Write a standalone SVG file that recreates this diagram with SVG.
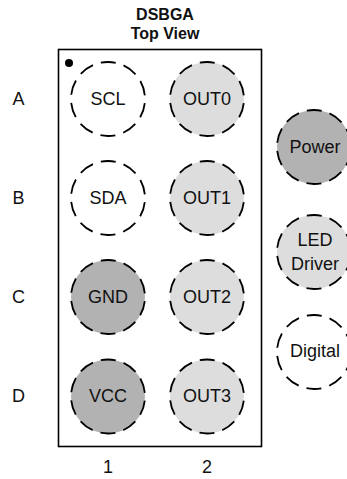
<svg xmlns="http://www.w3.org/2000/svg" width="347" height="479" viewBox="0 0 347 479">
<style>
text{font-family:"Liberation Sans",Arial,sans-serif;font-size:18px;fill:#111;text-anchor:middle}
.t{font-weight:bold;font-size:16px}
.b{stroke:#000;stroke-width:1.8;stroke-dasharray:15 8.250;stroke-dashoffset:-4.100;fill:#fff}
.l{fill:#ddd}.d{fill:#b2b2b2}
</style>
<rect width="347" height="479" fill="#fff"/>
<g id="title"><text class="t" x="165" y="20">DSBGA</text><text class="t" x="165" y="39">Top View</text></g>
<g id="package"><rect x="58.500" y="49.500" width="203" height="397" fill="#fff" stroke="#000" stroke-width="1.600"/><circle cx="69" cy="63" r="4" fill="#000"/></g>
<g id="rows"><text x="18.500" y="105">A</text><text x="18.500" y="204">B</text><text x="18.500" y="303">C</text><text x="18.500" y="402">D</text></g>
<g id="cols"><text x="108" y="473">1</text><text x="207" y="473">2</text></g>
<g id="A1"><circle class="b" cx="108" cy="99" r="37"/><text x="108" y="105">SCL</text></g>
<g id="A2"><circle class="b l" cx="207" cy="99" r="37"/><text x="207" y="105">OUT0</text></g>
<g id="B1"><circle class="b" cx="108" cy="198" r="37"/><text x="108" y="204">SDA</text></g>
<g id="B2"><circle class="b l" cx="207" cy="198" r="37"/><text x="207" y="204">OUT1</text></g>
<g id="C1"><circle class="b d" cx="108" cy="297" r="37"/><text x="108" y="303">GND</text></g>
<g id="C2"><circle class="b l" cx="207" cy="297" r="37"/><text x="207" y="303">OUT2</text></g>
<g id="D1"><circle class="b d" cx="108" cy="396.500" r="37"/><text x="108" y="402">VCC</text></g>
<g id="D2"><circle class="b l" cx="207" cy="396.500" r="37"/><text x="207" y="402">OUT3</text></g>
<g id="legend-power"><circle class="b d" cx="314" cy="147" r="37"/><text x="315" y="153">Power</text></g>
<g id="legend-led"><circle class="b l" cx="314" cy="252" r="37"/><text x="315" y="246">LED</text><text x="315" y="270">Driver</text></g>
<g id="legend-digital"><circle class="b" cx="314" cy="352" r="37"/><text x="315" y="357">Digital</text></g>
</svg>
